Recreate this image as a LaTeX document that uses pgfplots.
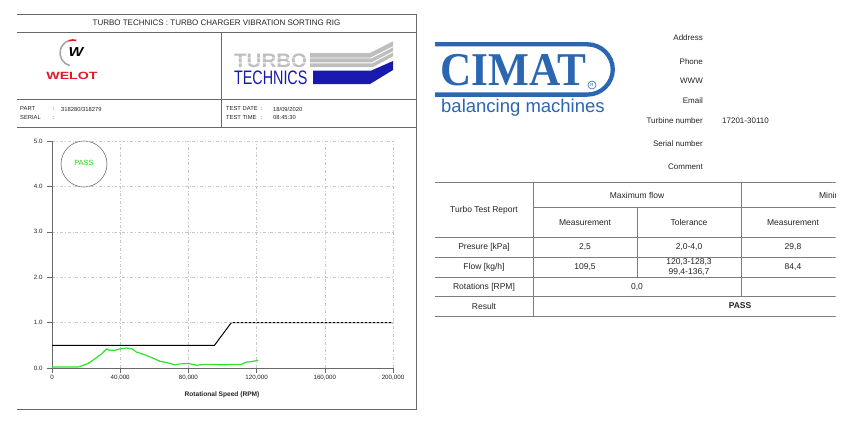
\documentclass[border=0pt]{standalone}
\usepackage{fontspec}
\setmainfont{Liberation Sans}
\newfontfamily\serifbold{Liberation Serif}
\usepackage{graphicx}
\usepackage{pgfplots}
\pgfplotsset{compat=1.18}
\definecolor{framegray}{RGB}{105,105,105}
\definecolor{tablegray}{RGB}{125,125,125}
\definecolor{gridgray}{RGB}{200,200,200}
\definecolor{cimatblue}{RGB}{42,102,178}
\definecolor{ttblue}{RGB}{25,25,175}
\definecolor{ttgray}{RGB}{190,190,190}
\definecolor{welotred}{RGB}{225,25,40}
\definecolor{curvegreen}{RGB}{45,225,45}
\definecolor{passgreen}{RGB}{30,215,30}
\definecolor{txt}{RGB}{35,35,35}
\begin{document}
\begin{tikzpicture}
\useasboundingbox (0,0) rectangle (849pt,-423pt);
\begin{scope}[x=1pt,y=-1pt]
% ---------- left report frame ----------
\draw[framegray, line width=0.9pt] (17,14)--(416,14);
\draw[framegray, line width=0.9pt] (17,32)--(416,32);
\draw[framegray, line width=0.9pt] (17,99)--(416,99);
\draw[framegray, line width=0.9pt] (17,127)--(416,127);
\draw[framegray, line width=0.9pt] (17,409.5)--(416,409.5);
\draw[framegray, line width=0.9pt] (416,14)--(416,409.5);
\draw[framegray, line width=0.9pt] (221,32)--(221,127);
\node[txt] at (216.5,23) {\fontsize{8}{9}\selectfont TURBO TECHNICS : TURBO CHARGER VIBRATION SORTING RIG};
% WELOT logo
\draw[gray!70, line width=1.6pt] (73,53) ++(105:13) arc (105:250:13);
\draw[welotred, line width=1.6pt] (73,53) ++(250:13) arc (250:285:13);
\node[inner sep=0pt, xscale=1.2] at (76,52) {\fontsize{13}{13}\selectfont\bfseries\itshape W};
\node[welotred, inner sep=0pt, anchor=base, xscale=1.35] at (72,79) {\fontsize{10.5}{11}\selectfont\bfseries WELOT};
% TURBO TECHNICS logo
\fill[ttgray] (310,53)--(370,53)--(393,41.3)--(393,56.3)--(373,67)--(310,67)--cycle;
\fill[ttblue] (313,70.7)--(371,70.7)--(393,61)--(393,70)--(370,84)--(313,84)--cycle;
\node[ttgray, inner sep=0pt, anchor=base west, xscale=1.05] at (234,67) {\fontsize{19.5}{19.5}\selectfont\bfseries TURBO};
\draw[white, line width=0.9pt] (232,58)--(371,58)--(395,45.8);
\draw[white, line width=0.9pt] (232,62.8)--(372,62.8)--(395,50.8);
\node[ttblue, inner sep=0pt, anchor=base west, xscale=0.735] at (234,84) {\fontsize{19.5}{19.5}\selectfont TECHNICS};
% info row
\begin{scope}[every node/.style={inner sep=0pt, anchor=west, txt, font=\fontsize{5.8}{7}\selectfont}]
\node at (20,109) {PART};
\node at (20,118) {SERIAL};
\node at (53,109) {:};
\node at (53,118) {:};
\node at (61,109) {318280/318279};
\node at (226,109) {TEST DATE};
\node at (226,118) {TEST TIME};
\node at (261,109) {:};
\node at (261,118) {:};
\node at (273,109) {18/09/2020};
\node at (273,118) {08:45:30};
\end{scope}
% PASS stamp
\draw[framegray, line width=0.6pt] (84,164) circle (23);
\node[passgreen] at (84,163) {\fontsize{7.5}{8}\selectfont PASS};
% x label
\node[txt] at (222,395) {\fontsize{6.6}{7}\selectfont\bfseries Rotational Speed (RPM)};
% ---------- CIMAT logo ----------
\begin{scope}
\clip (435,30) rectangle (640,125);
\draw[cimatblue, line width=4.3pt, rounded corners=25.5pt] (400,44.3) rectangle (612.8,94.6);
\end{scope}
\node[cimatblue, inner sep=0pt, anchor=base, xscale=0.92] at (513,85.5) {\serifbold\fontsize{47}{47}\selectfont\bfseries CIMAT};
\draw[cimatblue, line width=0.6pt] (592,85) circle (4);
\node[cimatblue, inner sep=0pt] at (592,85) {\fontsize{4.5}{5}\selectfont R};
\node[cimatblue, inner sep=0pt, anchor=base west] at (441,112.5) {\fontsize{18.5}{19}\selectfont balancing machines};
% right labels
\begin{scope}[every node/.style={inner sep=0pt, anchor=east, txt, font=\fontsize{8}{9}\selectfont}]
\node at (703,38) {Address};
\node at (703,62) {Phone};
\node at (703,81) {WWW};
\node at (703,101) {Email};
\node at (703,121) {Turbine number};
\node at (703,144) {Serial number};
\node at (703,167) {Comment};
\end{scope}
\node[inner sep=0pt, anchor=west, txt] at (722,121) {\fontsize{8}{9}\selectfont 17201-30110};
% ---------- table ----------
\begin{scope}
\clip (430,170) rectangle (835.5,325);
\begin{scope}[tablegray, line width=0.9pt]
\draw (435,182)--(900,182);
\draw (533,207)--(900,207);
\draw (435,237)--(900,237);
\draw (435,257)--(900,257);
\draw (435,277)--(900,277);
\draw (435,296)--(900,296);
\draw (435,316)--(900,316);
\draw (533,182)--(533,316);
\draw (637,207)--(637,277);
\draw (741,182)--(741,296);
\end{scope}
\begin{scope}[every node/.style={inner sep=0pt, txt, font=\fontsize{8.5}{9.5}\selectfont}]
\node at (484,210) {Turbo Test Report};
\node at (637,195) {Maximum flow};
\node at (845,195) {Minimum flow};
\node at (585,222.5) {Measurement};
\node at (689,222.5) {Tolerance};
\node at (793,222.5) {Measurement};
\node at (484,247) {Presure [kPa]};
\node at (585,247) {2,5};
\node at (689,247) {2,0-4,0};
\node at (793,247) {29,8};
\node at (484,267) {Flow [kg/h]};
\node at (585,267) {109,5};
\node at (689,262.5) {120,3-128,3};
\node at (689,272) {99,4-136,7};
\node at (793,267) {84,4};
\node at (484,287) {Rotations [RPM]};
\node at (637,287) {0,0};
\node at (484,306) {Result};
\node at (740,306) {\bfseries PASS};
\end{scope}
\end{scope}
\end{scope}
% ---------- chart ----------
\begin{axis}[
  at={(52pt,-368pt)}, anchor=south west,
  scale only axis, width=341pt, height=227pt,
  xmin=0, xmax=200000, ymin=0, ymax=5,
  scaled x ticks=false,
  axis x line*=bottom, axis y line*=left,
  xtick pos=bottom, ytick pos=left,
  tick align=outside, major tick length=5pt,
  axis line style={framegray, line width=0.8pt},
  every tick/.style={framegray, line width=0.6pt},
  xtick={0,40000,80000,120000,160000,200000},
  xticklabels={0,{40,000},{80,000},{120,000},{160,000},{200,000}},
  ytick={0,1,2,3,4,5},
  yticklabels={0.0,1.0,2.0,3.0,4.0,5.0},
  tick label style={txt, font=\fontsize{6.2}{7}\selectfont},
  xticklabel style={yshift=1pt},
  yticklabel style={xshift=-1pt},
  grid=major,
  major grid style={gridgray, line width=0.6pt, dash pattern=on 3pt off 2pt on 0.8pt off 2pt},
]
\addplot[black, line width=1pt] coordinates {(0,0.5)(95300,0.5)(105200,1.0)(200000,1.0)};
\addplot[gray!60, line width=0.6pt, dash pattern=on 2pt off 2pt] coordinates {(105200,1.0)(200000,1.0)};
\addplot[curvegreen, line width=1.2pt] coordinates {
(0,0.02)(15300,0.02)(17200,0.045)(21200,0.10)(25100,0.20)(29000,0.31)(32000,0.42)
(33900,0.39)(36800,0.39)(39800,0.42)(43700,0.44)(47000,0.42)(49600,0.35)(54500,0.29)
(58400,0.23)(63300,0.15)(68200,0.11)(72100,0.07)(75000,0.09)(80000,0.10)(84900,0.06)
(89800,0.08)(93700,0.08)(99600,0.07)(107000,0.08)(111000,0.08)(114000,0.13)(117000,0.14)
(121000,0.17)};
\end{axis}
\end{tikzpicture}
\end{document}
